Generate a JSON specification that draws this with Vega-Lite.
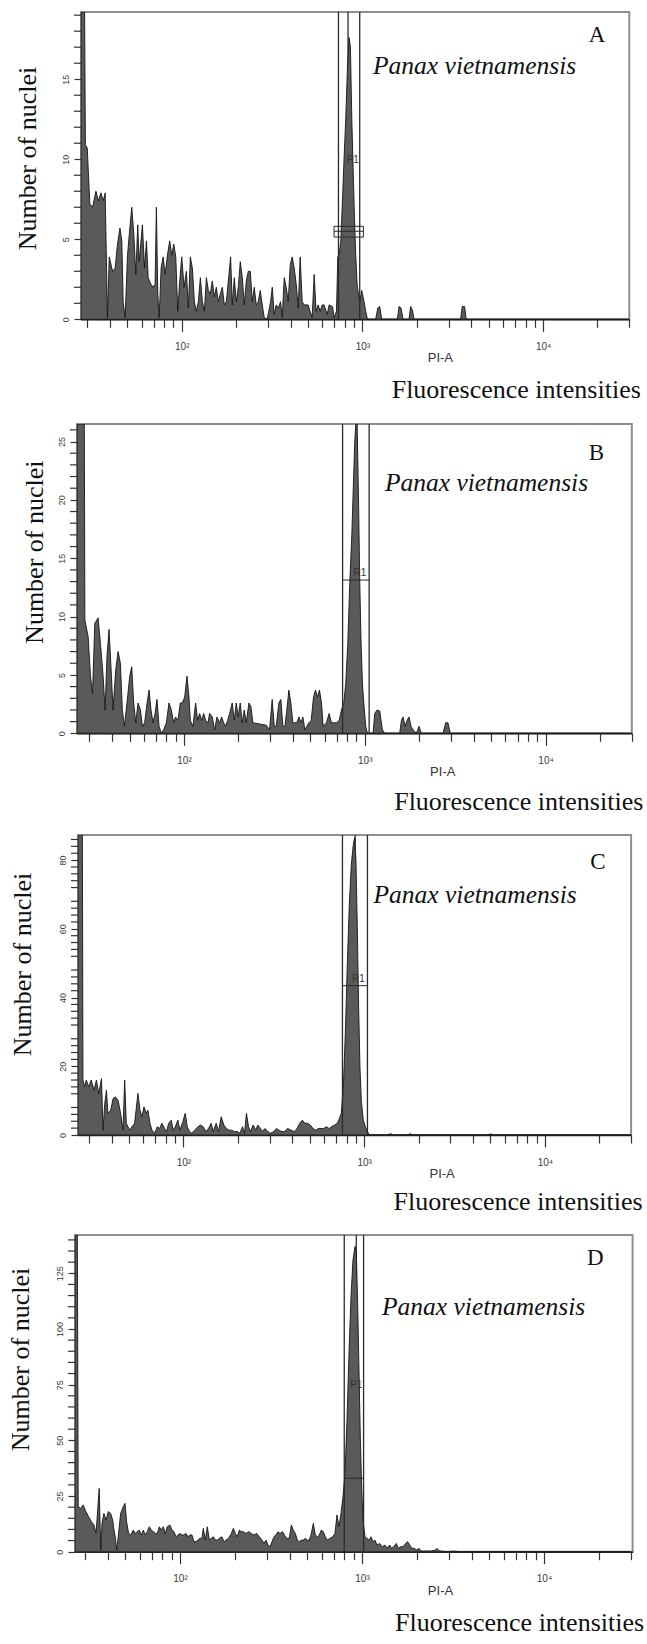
{
  "$schema": "https://vega.github.io/schema/vega-lite/v6.json",
  "padding": {"left": 0, "top": 10, "right": 0, "bottom": 0},
  "spacing": 18,
  "config": {
    "view": {"stroke": "#8f8f8f", "strokeWidth": 2},
    "axis": {"grid": false, "domainColor": "#222", "domainWidth": 1.5, "tickColor": "#333", "tickWidth": 1.2, "labelFont": "Liberation Sans", "labelColor": "#3a3a3a", "titleFont": "Liberation Serif", "titleFontWeight": "normal", "titleColor": "#111", "labelFlush": false, "labelOverlap": false},
    "text": {"font": "Liberation Serif", "color": "#111"}
  },
  "datasets": {
    "A": [
      {"intensity":27.7,"count":19.2},{"intensity":29.0,"count":19.2},{"intensity":29.3,"count":10.9},{"intensity":30.0,"count":10.7},{"intensity":31.0,"count":7.2},{"intensity":32.1,"count":7.0},{"intensity":33.5,"count":8.0},{"intensity":34.6,"count":7.4},{"intensity":35.7,"count":7.9},{"intensity":36.8,"count":7.4},{"intensity":37.7,"count":7.9},{"intensity":38.4,"count":2.9},{"intensity":38.8,"count":0.1},{"intensity":39.7,"count":3.9},{"intensity":41.4,"count":3.0},{"intensity":42.8,"count":3.2},{"intensity":44.1,"count":4.7},{"intensity":45.5,"count":5.7},{"intensity":46.6,"count":4.9},{"intensity":47.4,"count":1.1},{"intensity":48.6,"count":0.1},{"intensity":50.1,"count":4.0},{"intensity":51.6,"count":5.7},{"intensity":52.9,"count":7.0},{"intensity":54.3,"count":5.3},{"intensity":55.7,"count":2.8},{"intensity":57.1,"count":5.9},{"intensity":58.1,"count":3.6},{"intensity":59.3,"count":4.7},{"intensity":60.6,"count":5.9},{"intensity":62.2,"count":3.2},{"intensity":63.8,"count":4.9},{"intensity":65.2,"count":2.6},{"intensity":67.4,"count":2.2},{"intensity":69.4,"count":2.0},{"intensity":71.2,"count":2.2},{"intensity":72.4,"count":7.0},{"intensity":73.7,"count":1.6},{"intensity":75.0,"count":0.1},{"intensity":76.9,"count":3.2},{"intensity":78.9,"count":3.9},{"intensity":80.9,"count":2.8},{"intensity":83.3,"count":4.0},{"intensity":85.8,"count":4.9},{"intensity":88.1,"count":4.0},{"intensity":90.3,"count":4.7},{"intensity":92.7,"count":3.9},{"intensity":95.0,"count":0.5},{"intensity":97.5,"count":2.4},{"intensity":100,"count":3.9},{"intensity":103.0,"count":2.0},{"intensity":106.1,"count":3.0},{"intensity":108.8,"count":0.7},{"intensity":111.6,"count":3.9},{"intensity":114.5,"count":3.2},{"intensity":117.5,"count":1.1},{"intensity":120.5,"count":0.5},{"intensity":123.6,"count":1.1},{"intensity":126.8,"count":2.6},{"intensity":130.1,"count":1.1},{"intensity":133.4,"count":0.5},{"intensity":136.9,"count":2.6},{"intensity":140.4,"count":1.8},{"intensity":144.0,"count":1.6},{"intensity":147.7,"count":2.4},{"intensity":151.5,"count":1.4},{"intensity":155.4,"count":2.0},{"intensity":159.5,"count":1.1},{"intensity":163.6,"count":1.6},{"intensity":167.8,"count":2.0},{"intensity":172.1,"count":0.9},{"intensity":176.5,"count":1.1},{"intensity":182.6,"count":2.8},{"intensity":186.5,"count":3.9},{"intensity":190.5,"count":0.9},{"intensity":195.4,"count":2.6},{"intensity":200.5,"count":1.1},{"intensity":205.6,"count":2.0},{"intensity":210.9,"count":3.6},{"intensity":216.4,"count":2.6},{"intensity":222.0,"count":0.9},{"intensity":227.7,"count":2.4},{"intensity":233.6,"count":3.0},{"intensity":239.6,"count":3.0},{"intensity":245.7,"count":1.1},{"intensity":252.0,"count":2.0},{"intensity":258.5,"count":0.9},{"intensity":265.2,"count":1.1},{"intensity":272.0,"count":1.8},{"intensity":279.1,"count":0.9},{"intensity":286.2,"count":0.1},{"intensity":297.4,"count":0},{"intensity":310.3,"count":1.1},{"intensity":317.0,"count":2.0},{"intensity":325.1,"count":0.3},{"intensity":333.4,"count":0.9},{"intensity":342.0,"count":0.7},{"intensity":352.4,"count":1.1},{"intensity":359.9,"count":0.1},{"intensity":369.2,"count":2.6},{"intensity":378.7,"count":2.0},{"intensity":388.5,"count":1.1},{"intensity":398.5,"count":3.4},{"intensity":408.7,"count":3.9},{"intensity":419.3,"count":3.2},{"intensity":430.1,"count":2.2},{"intensity":441.1,"count":0.7},{"intensity":452.4,"count":3.9},{"intensity":464.2,"count":1.1},{"intensity":476.1,"count":0.9},{"intensity":488.4,"count":0.9},{"intensity":500.9,"count":0.9},{"intensity":513.8,"count":0.5},{"intensity":527.1,"count":0.1},{"intensity":540.7,"count":2.8},{"intensity":554.6,"count":0.5},{"intensity":569.0,"count":0.9},{"intensity":583.6,"count":0.5},{"intensity":598.7,"count":0.9},{"intensity":614.1,"count":0.9},{"intensity":638.0,"count":0.3},{"intensity":654.3,"count":0.9},{"intensity":682.9,"count":0.8},{"intensity":697.5,"count":0.1},{"intensity":718.5,"count":0.5},{"intensity":730.7,"count":3.9},{"intensity":743.2,"count":4.0},{"intensity":759.1,"count":4.9},{"intensity":775.4,"count":7.4},{"intensity":791.9,"count":10.1},{"intensity":809.0,"count":12.6},{"intensity":826.3,"count":15.7},{"intensity":843.9,"count":17.6},{"intensity":858.4,"count":17.0},{"intensity":873.2,"count":12.6},{"intensity":888.1,"count":9.5},{"intensity":903.2,"count":6.4},{"intensity":918.7,"count":4.0},{"intensity":934.4,"count":2.2},{"intensity":950.5,"count":1.6},{"intensity":966.7,"count":1.1},{"intensity":991.6,"count":1.8},{"intensity":1021.4,"count":1.1},{"intensity":1043.3,"count":0.5},{"intensity":1065.8,"count":0},{"intensity":1185.1,"count":0},{"intensity":1215.5,"count":0.7},{"intensity":1246.8,"count":0.8},{"intensity":1279.0,"count":0},{"intensity":1561,"count":0},{"intensity":1594.5,"count":0.8},{"intensity":1635.5,"count":0.7},{"intensity":1677.8,"count":0},{"intensity":1810.4,"count":0},{"intensity":1849.3,"count":0.8},{"intensity":1889,"count":0.6},{"intensity":1929.6,"count":0},{"intensity":3494,"count":0},{"intensity":3569,"count":0.8},{"intensity":3677,"count":0.8},{"intensity":3754,"count":0},{"intensity":30000,"count":0}
    ],
    "B": [
      {"intensity":25.6,"count":26.5},{"intensity":28.1,"count":26.5},{"intensity":28.3,"count":9.7},{"intensity":29.5,"count":8.3},{"intensity":30.4,"count":4.9},{"intensity":31.2,"count":3.4},{"intensity":32.1,"count":9.4},{"intensity":33.5,"count":9.9},{"intensity":34.5,"count":7.7},{"intensity":35.7,"count":4.9},{"intensity":36.6,"count":2.0},{"intensity":37.5,"count":6.6},{"intensity":38.5,"count":8.9},{"intensity":39.7,"count":4.9},{"intensity":40.5,"count":2.0},{"intensity":41.9,"count":5.4},{"intensity":43.2,"count":7.0},{"intensity":44.5,"count":6.0},{"intensity":45.6,"count":2.0},{"intensity":46.8,"count":0.6},{"intensity":48.4,"count":2.6},{"intensity":50.1,"count":4.9},{"intensity":51.4,"count":5.7},{"intensity":52.7,"count":2.6},{"intensity":54.1,"count":0.9},{"intensity":55.7,"count":2.6},{"intensity":57.4,"count":2.0},{"intensity":58.9,"count":0.6},{"intensity":60.6,"count":0.9},{"intensity":62.5,"count":2.6},{"intensity":64.1,"count":3.7},{"intensity":65.7,"count":2.0},{"intensity":67.4,"count":0.9},{"intensity":69.2,"count":1.7},{"intensity":70.9,"count":2.9},{"intensity":72.8,"count":0.6},{"intensity":75.0,"count":0},{"intensity":77.2,"count":0.3},{"intensity":79.9,"count":0.9},{"intensity":82.6,"count":2.6},{"intensity":85.1,"count":2.0},{"intensity":87.7,"count":0.9},{"intensity":89.9,"count":1.4},{"intensity":92.7,"count":1.1},{"intensity":95.4,"count":2.6},{"intensity":97.9,"count":2.6},{"intensity":100.9,"count":3.1},{"intensity":103.9,"count":4.9},{"intensity":106.6,"count":3.1},{"intensity":108.4,"count":1.1},{"intensity":112.1,"count":0.6},{"intensity":116.0,"count":2.6},{"intensity":119.0,"count":1.1},{"intensity":122.1,"count":1.7},{"intensity":125.2,"count":1.1},{"intensity":128.5,"count":1.7},{"intensity":131.8,"count":1.1},{"intensity":135.7,"count":0.9},{"intensity":138.6,"count":1.7},{"intensity":143.4,"count":1.4},{"intensity":147.7,"count":0.3},{"intensity":152.2,"count":1.4},{"intensity":157.4,"count":0.9},{"intensity":161.5,"count":1.4},{"intensity":165.7,"count":0.9},{"intensity":169.9,"count":0.6},{"intensity":174.3,"count":1.1},{"intensity":178.8,"count":1.7},{"intensity":184.9,"count":2.6},{"intensity":189.7,"count":1.1},{"intensity":194.6,"count":2.6},{"intensity":199.6,"count":1.4},{"intensity":204.7,"count":2.6},{"intensity":210.0,"count":0.9},{"intensity":215.4,"count":2.0},{"intensity":221.0,"count":0.9},{"intensity":228.6,"count":2.6},{"intensity":234.5,"count":2.3},{"intensity":240.5,"count":0.9},{"intensity":285.0,"count":0.7},{"intensity":297.4,"count":0.3},{"intensity":307.6,"count":2.9},{"intensity":315.6,"count":0.6},{"intensity":323.7,"count":0.6},{"intensity":334.9,"count":2.6},{"intensity":343.5,"count":2.9},{"intensity":352.4,"count":0.6},{"intensity":361.4,"count":0.6},{"intensity":370.7,"count":2.0},{"intensity":380.3,"count":3.7},{"intensity":390.1,"count":2.6},{"intensity":400.2,"count":0.9},{"intensity":421.1,"count":0.9},{"intensity":432.0,"count":1.4},{"intensity":445.0,"count":0.9},{"intensity":454.6,"count":1.4},{"intensity":466.3,"count":0.3},{"intensity":478.3,"count":0.6},{"intensity":490.6,"count":0.9},{"intensity":505.4,"count":1.1},{"intensity":520.6,"count":3.1},{"intensity":533.9,"count":3.7},{"intensity":547.7,"count":3.1},{"intensity":561.8,"count":3.7},{"intensity":576.3,"count":2.6},{"intensity":588.6,"count":0.6},{"intensity":614.1,"count":0.9},{"intensity":635.2,"count":1.7},{"intensity":654.3,"count":0.9},{"intensity":674.1,"count":0.9},{"intensity":697.5,"count":0.9},{"intensity":721.5,"count":1.1},{"intensity":743.2,"count":2.0},{"intensity":765.6,"count":2.6},{"intensity":785.3,"count":4.3},{"intensity":805.6,"count":7.7},{"intensity":826.3,"count":12.9},{"intensity":847.6,"count":16.9},{"intensity":862.1,"count":20.6},{"intensity":880.7,"count":25.1},{"intensity":892.0,"count":26.5},{"intensity":907.2,"count":26.5},{"intensity":922.6,"count":20.6},{"intensity":938.5,"count":12.9},{"intensity":954.4,"count":7.7},{"intensity":970.7,"count":4.3},{"intensity":987.4,"count":2.6},{"intensity":1012.8,"count":0.6},{"intensity":1034.4,"count":0},{"intensity":1111.8,"count":0},{"intensity":1135.6,"count":1.7},{"intensity":1169.9,"count":2.0},{"intensity":1210.4,"count":1.9},{"intensity":1252.1,"count":0.3},{"intensity":1289.8,"count":0},{"intensity":1561,"count":0},{"intensity":1594.5,"count":1.1},{"intensity":1628.6,"count":1.4},{"intensity":1670.5,"count":0.6},{"intensity":1713.6,"count":1.1},{"intensity":1757.7,"count":1.4},{"intensity":1803.0,"count":0.6},{"intensity":1849.3,"count":0.3},{"intensity":1929.6,"count":0},{"intensity":1996.0,"count":0.6},{"intensity":2056.2,"count":0},{"intensity":2709,"count":0},{"intensity":2802,"count":0.9},{"intensity":2886,"count":0.9},{"intensity":2973,"count":0},{"intensity":30000,"count":0}
    ],
    "C": [
      {"intensity":26.1,"count":87.3},{"intensity":27.6,"count":87.3},{"intensity":27.8,"count":16},{"intensity":28.4,"count":14},{"intensity":29.0,"count":16},{"intensity":29.9,"count":14},{"intensity":30.9,"count":16},{"intensity":32.0,"count":13},{"intensity":33.0,"count":16},{"intensity":34.0,"count":12},{"intensity":35.2,"count":16.4},{"intensity":35.9,"count":1.4},{"intensity":36.7,"count":9.2},{"intensity":37.5,"count":13},{"intensity":38.2,"count":6.3},{"intensity":39.6,"count":7.2},{"intensity":40.8,"count":10.6},{"intensity":42.0,"count":11.1},{"intensity":43.5,"count":10.1},{"intensity":44.9,"count":6.3},{"intensity":46.3,"count":1.4},{"intensity":47.3,"count":16},{"intensity":48.3,"count":3.4},{"intensity":50.4,"count":1.4},{"intensity":51.9,"count":2.4},{"intensity":53.7,"count":3.4},{"intensity":56.0,"count":12.1},{"intensity":57.5,"count":7.2},{"intensity":58.9,"count":5.3},{"intensity":60.5,"count":8.2},{"intensity":62.3,"count":6.3},{"intensity":63.6,"count":7.2},{"intensity":65.3,"count":3.4},{"intensity":67.0,"count":1.4},{"intensity":69.3,"count":0.5},{"intensity":71.7,"count":2.4},{"intensity":73.8,"count":1.9},{"intensity":76.0,"count":3.4},{"intensity":78.7,"count":1.9},{"intensity":80.7,"count":1.0},{"intensity":82.8,"count":3.4},{"intensity":85.6,"count":4.3},{"intensity":87.8,"count":1.4},{"intensity":90.1,"count":2.4},{"intensity":93.2,"count":4.3},{"intensity":95.6,"count":1.4},{"intensity":99.3,"count":3.9},{"intensity":102.3,"count":6.3},{"intensity":105.0,"count":2.4},{"intensity":108.1,"count":1.0},{"intensity":111.4,"count":0.5},{"intensity":115.2,"count":1.4},{"intensity":120.2,"count":2.4},{"intensity":124.4,"count":2.9},{"intensity":128.7,"count":2.4},{"intensity":133.1,"count":1.0},{"intensity":137.7,"count":1.9},{"intensity":142.4,"count":3.4},{"intensity":146.1,"count":1.0},{"intensity":151.8,"count":3.4},{"intensity":156.4,"count":1.0},{"intensity":161.8,"count":5.3},{"intensity":167.3,"count":2.9},{"intensity":173.1,"count":1.9},{"intensity":179.1,"count":1.4},{"intensity":185.3,"count":1.4},{"intensity":191.7,"count":1.0},{"intensity":198.4,"count":1.0},{"intensity":205.1,"count":0.5},{"intensity":212.2,"count":2.4},{"intensity":217.7,"count":0.5},{"intensity":223.3,"count":6.3},{"intensity":229.1,"count":2.4},{"intensity":234.9,"count":1.0},{"intensity":243.0,"count":2.9},{"intensity":251.4,"count":1.4},{"intensity":257.9,"count":2.9},{"intensity":266.8,"count":1.9},{"intensity":273.6,"count":1.0},{"intensity":283.1,"count":1.9},{"intensity":292.9,"count":1.0},{"intensity":303.0,"count":0.5},{"intensity":316.1,"count":1.0},{"intensity":327.0,"count":1.9},{"intensity":338.3,"count":1.4},{"intensity":349.9,"count":1.0},{"intensity":362.0,"count":1.0},{"intensity":377.7,"count":1.9},{"intensity":394.1,"count":1.4},{"intensity":411.1,"count":1.0},{"intensity":425.3,"count":1.9},{"intensity":440.0,"count":3.4},{"intensity":455.1,"count":4.3},{"intensity":470.8,"count":3.4},{"intensity":487.1,"count":3.4},{"intensity":504.0,"count":2.9},{"intensity":521.3,"count":1.9},{"intensity":539.3,"count":1.4},{"intensity":557.9,"count":1.9},{"intensity":577.1,"count":1.9},{"intensity":597.1,"count":1.9},{"intensity":617.7,"count":2.4},{"intensity":641.7,"count":1.9},{"intensity":658.1,"count":2.4},{"intensity":686.6,"count":2.9},{"intensity":710.3,"count":3.4},{"intensity":728.9,"count":4.8},{"intensity":747.7,"count":6.3},{"intensity":766.9,"count":14},{"intensity":786.7,"count":29.5},{"intensity":806.9,"count":49.8},{"intensity":827.7,"count":67.1},{"intensity":849.0,"count":78.7},{"intensity":871.0,"count":84.5},{"intensity":885.9,"count":86.5},{"intensity":901.1,"count":79.7},{"intensity":916.5,"count":60.4},{"intensity":932.2,"count":37.2},{"intensity":948.1,"count":19.8},{"intensity":964.3,"count":10.1},{"intensity":989.0,"count":4.3},{"intensity":1014.6,"count":2.4},{"intensity":1040.6,"count":1.0},{"intensity":1072.0,"count":0},{"intensity":1350,"count":0},{"intensity":1400,"count":0.4},{"intensity":1450,"count":0},{"intensity":1750,"count":0},{"intensity":1800,"count":0.4},{"intensity":1850,"count":0},{"intensity":4800,"count":0},{"intensity":5000,"count":0.3},{"intensity":5200,"count":0},{"intensity":30000,"count":0}
    ],
    "D": [
      {"intensity":26.5,"count":142.2},{"intensity":27.3,"count":142.2},{"intensity":27.6,"count":20.2},{"intensity":28.5,"count":19.5},{"intensity":29.4,"count":21},{"intensity":30.4,"count":18},{"intensity":31.5,"count":15.7},{"intensity":32.6,"count":13.5},{"intensity":33.7,"count":12},{"intensity":34.6,"count":8.2},{"intensity":35.3,"count":18.7},{"intensity":36.0,"count":28.4},{"intensity":36.7,"count":0.7},{"intensity":37.3,"count":12.7},{"intensity":38.2,"count":17.2},{"intensity":39.2,"count":14.2},{"intensity":40.4,"count":18},{"intensity":41.6,"count":17.2},{"intensity":42.7,"count":14.2},{"intensity":43.4,"count":9.7},{"intensity":44.1,"count":6.7},{"intensity":44.9,"count":0.7},{"intensity":46.0,"count":8.2},{"intensity":47.2,"count":17.2},{"intensity":48.8,"count":20.2},{"intensity":49.9,"count":21.7},{"intensity":50.9,"count":13.5},{"intensity":52.2,"count":8.2},{"intensity":53.6,"count":7.5},{"intensity":55.4,"count":9.7},{"intensity":56.8,"count":8.2},{"intensity":58.3,"count":9.0},{"intensity":59.8,"count":9.7},{"intensity":61.3,"count":7.5},{"intensity":62.9,"count":9.7},{"intensity":64.5,"count":7.5},{"intensity":66.1,"count":9.0},{"intensity":67.8,"count":11.2},{"intensity":69.6,"count":9.7},{"intensity":71.4,"count":9.0},{"intensity":73.2,"count":8.2},{"intensity":75.1,"count":8.2},{"intensity":77.0,"count":11.2},{"intensity":78.9,"count":9.7},{"intensity":81.0,"count":11.2},{"intensity":83.1,"count":8.2},{"intensity":85.2,"count":11.2},{"intensity":88.1,"count":12.0},{"intensity":90.4,"count":9.7},{"intensity":92.7,"count":9.0},{"intensity":95.1,"count":6.7},{"intensity":97.5,"count":7.5},{"intensity":100,"count":8.2},{"intensity":102.6,"count":7.5},{"intensity":105.2,"count":7.5},{"intensity":107.9,"count":8.2},{"intensity":110.7,"count":6.7},{"intensity":113.5,"count":7.5},{"intensity":116.4,"count":7.5},{"intensity":119.4,"count":4.5},{"intensity":122.4,"count":4.5},{"intensity":125.6,"count":5.2},{"intensity":128.8,"count":6.0},{"intensity":132.1,"count":6.0},{"intensity":134.3,"count":10.5},{"intensity":137.8,"count":5.2},{"intensity":141.3,"count":11.2},{"intensity":145.0,"count":5.2},{"intensity":148.7,"count":6.0},{"intensity":152.5,"count":6.7},{"intensity":156.4,"count":5.2},{"intensity":160.4,"count":5.2},{"intensity":164.5,"count":6.0},{"intensity":170.1,"count":6.7},{"intensity":174.5,"count":4.5},{"intensity":178.9,"count":5.2},{"intensity":185.1,"count":6.0},{"intensity":191.5,"count":8.2},{"intensity":196.4,"count":10.5},{"intensity":201.4,"count":8.2},{"intensity":206.5,"count":6.7},{"intensity":211.8,"count":9.7},{"intensity":217.3,"count":9.0},{"intensity":222.8,"count":9.0},{"intensity":230.5,"count":8.2},{"intensity":238.4,"count":9.0},{"intensity":246.6,"count":8.2},{"intensity":255.0,"count":7.5},{"intensity":263.8,"count":8.2},{"intensity":272.9,"count":6.7},{"intensity":282.2,"count":5.2},{"intensity":289.4,"count":3.7},{"intensity":296.9,"count":5.2},{"intensity":304.5,"count":3.0},{"intensity":312.3,"count":2.2},{"intensity":320.3,"count":4.5},{"intensity":328.5,"count":6.7},{"intensity":336.9,"count":7.5},{"intensity":345.5,"count":9.0},{"intensity":354.3,"count":8.2},{"intensity":366.5,"count":9.0},{"intensity":379.1,"count":6.7},{"intensity":388.8,"count":6.0},{"intensity":398.8,"count":6.0},{"intensity":409.0,"count":12.0},{"intensity":419.5,"count":9.7},{"intensity":430.3,"count":8.2},{"intensity":441.3,"count":5.2},{"intensity":452.6,"count":4.5},{"intensity":464.2,"count":5.2},{"intensity":476.1,"count":5.2},{"intensity":488.3,"count":6.0},{"intensity":500.8,"count":5.2},{"intensity":513.6,"count":5.2},{"intensity":526.8,"count":8.2},{"intensity":540.3,"count":12.7},{"intensity":554.1,"count":7.5},{"intensity":568.3,"count":6.7},{"intensity":582.9,"count":7.5},{"intensity":597.8,"count":9.7},{"intensity":613.1,"count":9.0},{"intensity":628.8,"count":6.7},{"intensity":644.9,"count":5.2},{"intensity":667.1,"count":6.0},{"intensity":690.0,"count":6.7},{"intensity":710.6,"count":8.2},{"intensity":728.9,"count":16.5},{"intensity":747.6,"count":11.2},{"intensity":766.7,"count":17.2},{"intensity":786.4,"count":24.7},{"intensity":806.6,"count":35.2},{"intensity":827.3,"count":59},{"intensity":848.5,"count":89},{"intensity":870.2,"count":114.5},{"intensity":892.4,"count":131},{"intensity":915.3,"count":137},{"intensity":930.9,"count":134.7},{"intensity":946.8,"count":111.5},{"intensity":962.8,"count":81.6},{"intensity":979.1,"count":51.6},{"intensity":995.8,"count":29.2},{"intensity":1012.7,"count":14.2},{"intensity":1038.7,"count":6.7},{"intensity":1065.3,"count":6.0},{"intensity":1092.6,"count":5.2},{"intensity":1120.6,"count":6.7},{"intensity":1149.2,"count":4.5},{"intensity":1178.6,"count":5.2},{"intensity":1208.8,"count":3.0},{"intensity":1250.4,"count":3.7},{"intensity":1293.3,"count":2.2},{"intensity":1337.7,"count":3.0},{"intensity":1372.0,"count":1.5},{"intensity":1419.1,"count":3.0},{"intensity":1455.5,"count":1.5},{"intensity":1492.8,"count":2.2},{"intensity":1544.0,"count":3.7},{"intensity":1583.6,"count":1.5},{"intensity":1624.2,"count":2.2},{"intensity":1680.0,"count":2.2},{"intensity":1737.6,"count":3.7},{"intensity":1782.2,"count":4.5},{"intensity":1827.9,"count":3.0},{"intensity":1882.5,"count":1.5},{"intensity":1939.0,"count":1.5},{"intensity":2005.6,"count":0.7},{"intensity":2057.0,"count":1.5},{"intensity":2110.0,"count":0.3},{"intensity":2374,"count":0.3},{"intensity":2529,"count":0.7},{"intensity":2583,"count":1.5},{"intensity":2649,"count":0.4},{"intensity":2931,"count":0},{"intensity":3189,"count":0.3},{"intensity":3470,"count":0},{"intensity":30000,"count":0}
    ]
  },
  "vconcat": [
    {
      "spacing": 0,
      "hconcat": [
        {"width": 12.7, "height": 2, "view": {"stroke": null, "fill": "#ffffff"}, "data": {"values": []}, "mark": "rule", "encoding": {}},
        {
          "width": 548.3, "height": 307.3,
          "layer": [
            {"data": {"values": [{}]}, "mark": {"type": "rule", "color": "#2a2a2a", "strokeWidth": 1.3}, "encoding": {"x": {"datum": 832.5}, "y": {"datum": 0}, "y2": {"datum": 19.2}}},
            {"data": {"name": "A"}, "mark": {"type": "area", "interpolate": "linear", "color": "#5a5a5a", "stroke": "#141414", "strokeWidth": 0.9, "clip": true},
             "encoding": {
              "x": {"field": "intensity", "type": "quantitative", "scale": {"type": "log", "domain": [27.7, 30000], "nice": false},
                    "axis": {"title": "Fluorescence intensities", "titleFontSize": 26, "titleAnchor": "end", "titleAlign": "right", "titleBaseline": "middle", "titleX": 559.3, "titleY": 70,
                             "values": [30,40,50,60,70,80,90,100,200,300,400,500,600,700,800,900,1000,2000,3000,4000,5000,6000,7000,8000,9000,10000,20000,30000],
                             "labelExpr": "datum.value == 100 ? '10²' : datum.value == 1000 ? '10³' : datum.value == 10000 ? '10⁴' : ''",
                             "labelFontSize": 10, "labelPadding": 10, "labelOverlap": false,
                             "tickSize": {"condition": {"test": "datum.value == 100 || datum.value == 1000 || datum.value == 10000", "value": 12}, "value": 8}}},
              "y": {"field": "count", "type": "quantitative", "scale": {"domain": [0, 19.2], "nice": false},
                    "axis": {"title": "Number of nuclei", "titleFontSize": 26, "titleAngle": 270, "titleX": -54, "titleY": 146, "titleBaseline": "middle", "titleAlign": "center",
                             "values": [0,5,10,15], "labelOverlap": false,
                             "labelAngle": 270, "labelAlign": "center", "labelBaseline": "bottom", "labelFontSize": 9, "labelPadding": 4, "tickSize": 7}}
             }},
            {"data": {"values": [{"tick":1},{"tick":2},{"tick":3},{"tick":4},{"tick":6},{"tick":7},{"tick":8},{"tick":9},{"tick":11},{"tick":12},{"tick":13},{"tick":14},{"tick":16},{"tick":17},{"tick":18},{"tick":19}]},
             "mark": {"type": "rule", "color": "#333", "strokeWidth": 1.2, "xOffset": -7},
             "encoding": {"x": {"datum": 27.7}, "x2": {"datum": 27.7}, "y": {"field": "tick", "type": "quantitative", "title": "Number of nuclei"}}},
            {"data": {"values": [{}]}, "mark": {"type": "rule", "color": "#2a2a2a", "strokeWidth": 1.3}, "encoding": {"x": {"datum": 737}, "y": {"datum": 0}, "y2": {"datum": 19.2}}},
            {"data": {"values": [{}]}, "mark": {"type": "rule", "color": "#2a2a2a", "strokeWidth": 1.3}, "encoding": {"x": {"datum": 966.3}, "y": {"datum": 0}, "y2": {"datum": 19.2}}},
            {"data": {"values": [{}]}, "mark": {"type": "rect", "fill": null, "fillOpacity": 0, "stroke": "#2a2a2a", "strokeWidth": 1}, "encoding": {"x": {"datum": 696.8}, "x2": {"datum": 1012.7}, "y": {"datum": 5.14}, "y2": {"datum": 5.81}}},
            {"data": {"values": [{}]}, "mark": {"type": "rule", "color": "#2a2a2a", "strokeWidth": 1}, "encoding": {"x": {"datum": 696.8}, "x2": {"datum": 1012.7}, "y": {"datum": 5.5}}},
            {"data": {"values": [{}]}, "mark": {"type": "text", "text": "P1", "font": "Liberation Sans", "fontSize": 10, "color": "#333", "baseline": "middle"}, "encoding": {"x": {"datum": 884}, "y": {"datum": 9.94}}},
            {"data": {"values": [{}]}, "mark": {"type": "text", "text": "A", "fontSize": 23, "baseline": "middle", "align": "center"}, "encoding": {"x": {"datum": 19880}, "y": {"datum": 17.79}}},
            {"data": {"values": [{}]}, "mark": {"type": "text", "text": "Panax vietnamensis", "fontSize": 25.5, "fontStyle": "italic", "baseline": "middle", "align": "left"}, "encoding": {"x": {"datum": 1145}, "y": {"datum": 15.81}}},
            {"data": {"values": [{}]}, "mark": {"type": "text", "text": "PI-A", "font": "Liberation Sans", "fontSize": 13, "color": "#333", "baseline": "middle", "align": "center", "dy": 39}, "encoding": {"x": {"datum": 2700}, "y": {"datum": 0}}}
          ]
        }
      ]
    },
    {
      "spacing": 0,
      "hconcat": [
        {"width": 19.3, "height": 2, "view": {"stroke": null, "fill": "#ffffff"}, "data": {"values": []}, "mark": "rule", "encoding": {}},
        {
          "width": 554.8, "height": 309.3,
          "layer": [
            {"data": {"values": [{}]}, "mark": {"type": "rule", "color": "#2a2a2a", "strokeWidth": 1.3}, "encoding": {"x": {"datum": 901}, "y": {"datum": 0}, "y2": {"datum": 26.5}}},
            {"data": {"name": "B"}, "mark": {"type": "area", "interpolate": "linear", "color": "#5a5a5a", "stroke": "#141414", "strokeWidth": 0.9, "clip": true},
             "encoding": {
              "x": {"field": "intensity", "type": "quantitative", "scale": {"type": "log", "domain": [25.6, 30000], "nice": false},
                    "axis": {"title": "Fluorescence intensities", "titleFontSize": 26, "titleAnchor": "end", "titleAlign": "right", "titleBaseline": "middle", "titleX": 565.8, "titleY": 67.7,
                             "values": [30,40,50,60,70,80,90,100,200,300,400,500,600,700,800,900,1000,2000,3000,4000,5000,6000,7000,8000,9000,10000,20000,30000],
                             "labelExpr": "datum.value == 100 ? '10²' : datum.value == 1000 ? '10³' : datum.value == 10000 ? '10⁴' : ''",
                             "labelFontSize": 10, "labelPadding": 10, "labelOverlap": false,
                             "tickSize": {"condition": {"test": "datum.value == 100 || datum.value == 1000 || datum.value == 10000", "value": 12}, "value": 8}}},
              "y": {"field": "count", "type": "quantitative", "scale": {"domain": [0, 26.5], "nice": false},
                    "axis": {"title": "Number of nuclei", "titleFontSize": 26, "titleAngle": 270, "titleX": -42.1, "titleY": 127.7, "titleBaseline": "middle", "titleAlign": "center",
                             "values": [0,5,10,15,20,25], "labelOverlap": false,
                             "labelAngle": 270, "labelAlign": "center", "labelBaseline": "bottom", "labelFontSize": 9, "labelPadding": 4, "tickSize": 7}}
             }},
            {"data": {"values": [{"tick":1},{"tick":2},{"tick":3},{"tick":4},{"tick":6},{"tick":7},{"tick":8},{"tick":9},{"tick":11},{"tick":12},{"tick":13},{"tick":14},{"tick":16},{"tick":17},{"tick":18},{"tick":19},{"tick":21},{"tick":22},{"tick":23},{"tick":24},{"tick":26}]},
             "mark": {"type": "rule", "color": "#333", "strokeWidth": 1.2, "xOffset": -7},
             "encoding": {"x": {"datum": 25.6}, "x2": {"datum": 25.6}, "y": {"field": "tick", "type": "quantitative", "title": "Number of nuclei"}}},
            {"data": {"values": [{}]}, "mark": {"type": "rule", "color": "#2a2a2a", "strokeWidth": 1.3}, "encoding": {"x": {"datum": 754}, "y": {"datum": 0}, "y2": {"datum": 26.5}}},
            {"data": {"values": [{}]}, "mark": {"type": "rule", "color": "#2a2a2a", "strokeWidth": 1.3}, "encoding": {"x": {"datum": 1057.5}, "y": {"datum": 0}, "y2": {"datum": 26.5}}},
            {"data": {"values": [{}]}, "mark": {"type": "rule", "color": "#2a2a2a", "strokeWidth": 1}, "encoding": {"x": {"datum": 754}, "x2": {"datum": 1057.5}, "y": {"datum": 13.13}}},
            {"data": {"values": [{}]}, "mark": {"type": "text", "text": "R1", "font": "Liberation Sans", "fontSize": 10, "color": "#333", "baseline": "bottom"}, "encoding": {"x": {"datum": 939.5}, "y": {"datum": 13.3}}},
            {"data": {"values": [{}]}, "mark": {"type": "text", "text": "B", "fontSize": 23, "baseline": "middle", "align": "center"}, "encoding": {"x": {"datum": 19120}, "y": {"datum": 23.99}}},
            {"data": {"values": [{}]}, "mark": {"type": "text", "text": "Panax vietnamensis", "fontSize": 25.5, "fontStyle": "italic", "baseline": "middle", "align": "left"}, "encoding": {"x": {"datum": 1292}, "y": {"datum": 21.42}}},
            {"data": {"values": [{}]}, "mark": {"type": "text", "text": "PI-A", "font": "Liberation Sans", "fontSize": 13, "color": "#333", "baseline": "middle", "align": "center", "dy": 39}, "encoding": {"x": {"datum": 2700}, "y": {"datum": 0}}}
          ]
        }
      ]
    },
    {
      "spacing": 0,
      "hconcat": [
        {"width": 7.7, "height": 2, "view": {"stroke": null, "fill": "#ffffff"}, "data": {"values": []}, "mark": "rule", "encoding": {}},
        {
          "width": 553.1, "height": 300,
          "layer": [
            {"data": {"values": [{}]}, "mark": {"type": "rule", "color": "#2a2a2a", "strokeWidth": 1.3}, "encoding": {"x": {"datum": 891.7}, "y": {"datum": 0}, "y2": {"datum": 87.3}}},
            {"data": {"name": "C"}, "mark": {"type": "area", "interpolate": "linear", "color": "#5a5a5a", "stroke": "#141414", "strokeWidth": 0.9, "clip": true},
             "encoding": {
              "x": {"field": "intensity", "type": "quantitative", "scale": {"type": "log", "domain": [26.1, 30000], "nice": false},
                    "axis": {"title": "Fluorescence intensities", "titleFontSize": 26, "titleAnchor": "end", "titleAlign": "right", "titleBaseline": "middle", "titleX": 564.1, "titleY": 66,
                             "values": [30,40,50,60,70,80,90,100,200,300,400,500,600,700,800,900,1000,2000,3000,4000,5000,6000,7000,8000,9000,10000,20000,30000],
                             "labelExpr": "datum.value == 100 ? '10²' : datum.value == 1000 ? '10³' : datum.value == 10000 ? '10⁴' : ''",
                             "labelFontSize": 10, "labelPadding": 10, "labelOverlap": false,
                             "tickSize": {"condition": {"test": "datum.value == 100 || datum.value == 1000 || datum.value == 10000", "value": 12}, "value": 8}}},
              "y": {"field": "count", "type": "quantitative", "scale": {"domain": [0, 87.3], "nice": false},
                    "axis": {"title": "Number of nuclei", "titleFontSize": 26, "titleAngle": 270, "titleX": -56, "titleY": 129, "titleBaseline": "middle", "titleAlign": "center",
                             "values": [0,10,20,30,40,50,60,70,80], "labelOverlap": false,
                             "labelAngle": 270, "labelAlign": "center", "labelBaseline": "bottom", "labelFontSize": 9, "labelPadding": 4, "tickSize": 7}}
             }},
            {"data": {"values": [{"tick":2},{"tick":4},{"tick":6},{"tick":8},{"tick":12},{"tick":14},{"tick":16},{"tick":18},{"tick":22},{"tick":24},{"tick":26},{"tick":28},{"tick":32},{"tick":34},{"tick":36},{"tick":38},{"tick":42},{"tick":44},{"tick":46},{"tick":48},{"tick":52},{"tick":54},{"tick":56},{"tick":58},{"tick":62},{"tick":64},{"tick":66},{"tick":68},{"tick":72},{"tick":74},{"tick":76},{"tick":78},{"tick":82},{"tick":84},{"tick":86}]},
             "mark": {"type": "rule", "color": "#333", "strokeWidth": 1.2, "xOffset": -7},
             "encoding": {"x": {"datum": 26.1}, "x2": {"datum": 26.1}, "y": {"field": "tick", "type": "quantitative", "title": "Number of nuclei"}}},
            {"data": {"values": [{}]}, "mark": {"type": "rule", "color": "#2a2a2a", "strokeWidth": 1.3}, "encoding": {"x": {"datum": 758.5}, "y": {"datum": 0}, "y2": {"datum": 87.3}}},
            {"data": {"values": [{}]}, "mark": {"type": "rule", "color": "#2a2a2a", "strokeWidth": 1.3}, "encoding": {"x": {"datum": 1043}, "y": {"datum": 0}, "y2": {"datum": 87.3}}},
            {"data": {"values": [{}]}, "mark": {"type": "rule", "color": "#2a2a2a", "strokeWidth": 1}, "encoding": {"x": {"datum": 758.5}, "x2": {"datum": 1043}, "y": {"datum": 43.45}}},
            {"data": {"values": [{}]}, "mark": {"type": "text", "text": "R1", "font": "Liberation Sans", "fontSize": 10, "color": "#333", "baseline": "bottom"}, "encoding": {"x": {"datum": 930}, "y": {"datum": 44}}},
            {"data": {"values": [{}]}, "mark": {"type": "text", "text": "C", "fontSize": 23, "baseline": "middle", "align": "center"}, "encoding": {"x": {"datum": 19630}, "y": {"datum": 79.53}}},
            {"data": {"values": [{}]}, "mark": {"type": "text", "text": "Panax vietnamensis", "fontSize": 25.5, "fontStyle": "italic", "baseline": "middle", "align": "left"}, "encoding": {"x": {"datum": 1126}, "y": {"datum": 69.84}}},
            {"data": {"values": [{}]}, "mark": {"type": "text", "text": "PI-A", "font": "Liberation Sans", "fontSize": 13, "color": "#333", "baseline": "middle", "align": "center", "dy": 39}, "encoding": {"x": {"datum": 2700}, "y": {"datum": 0}}}
          ]
        }
      ]
    },
    {
      "spacing": 0,
      "hconcat": [
        {"width": 6, "height": 2, "view": {"stroke": null, "fill": "#ffffff"}, "data": {"values": []}, "mark": "rule", "encoding": {}},
        {
          "width": 557.6, "height": 316.7,
          "layer": [
            {"data": {"values": [{}]}, "mark": {"type": "rule", "color": "#2a2a2a", "strokeWidth": 1.3}, "encoding": {"x": {"datum": 930}, "y": {"datum": 0}, "y2": {"datum": 142.2}}},
            {"data": {"name": "D"}, "mark": {"type": "area", "interpolate": "linear", "color": "#5a5a5a", "stroke": "#141414", "strokeWidth": 0.9, "clip": true},
             "encoding": {
              "x": {"field": "intensity", "type": "quantitative", "scale": {"type": "log", "domain": [26.5, 30680], "nice": false},
                    "axis": {"title": "Fluorescence intensities", "titleFontSize": 26, "titleAnchor": "end", "titleAlign": "right", "titleBaseline": "middle", "titleX": 568.6, "titleY": 71,
                             "values": [30,40,50,60,70,80,90,100,200,300,400,500,600,700,800,900,1000,2000,3000,4000,5000,6000,7000,8000,9000,10000,20000,30000],
                             "labelExpr": "datum.value == 100 ? '10²' : datum.value == 1000 ? '10³' : datum.value == 10000 ? '10⁴' : ''",
                             "labelFontSize": 10, "labelPadding": 10, "labelOverlap": false,
                             "tickSize": {"condition": {"test": "datum.value == 100 || datum.value == 1000 || datum.value == 10000", "value": 12}, "value": 8}}},
              "y": {"field": "count", "type": "quantitative", "scale": {"domain": [0, 142.2], "nice": false},
                    "axis": {"title": "Number of nuclei", "titleFontSize": 26, "titleAngle": 270, "titleX": -54.2, "titleY": 124, "titleBaseline": "middle", "titleAlign": "center",
                             "values": [0,25,50,75,100,125], "labelOverlap": false,
                             "labelAngle": 270, "labelAlign": "center", "labelBaseline": "bottom", "labelFontSize": 9, "labelPadding": 4, "tickSize": 7}}
             }},
            {"data": {"values": [{"tick":5},{"tick":10},{"tick":15},{"tick":20},{"tick":30},{"tick":35},{"tick":40},{"tick":45},{"tick":55},{"tick":60},{"tick":65},{"tick":70},{"tick":80},{"tick":85},{"tick":90},{"tick":95},{"tick":105},{"tick":110},{"tick":115},{"tick":120},{"tick":130},{"tick":135},{"tick":140}]},
             "mark": {"type": "rule", "color": "#333", "strokeWidth": 1.2, "xOffset": -7},
             "encoding": {"x": {"datum": 26.5}, "x2": {"datum": 26.5}, "y": {"field": "tick", "type": "quantitative", "title": "Number of nuclei"}}},
            {"data": {"values": [{}]}, "mark": {"type": "rule", "color": "#2a2a2a", "strokeWidth": 1.3}, "encoding": {"x": {"datum": 799}, "y": {"datum": 0}, "y2": {"datum": 142.2}}},
            {"data": {"values": [{}]}, "mark": {"type": "rule", "color": "#2a2a2a", "strokeWidth": 1.3}, "encoding": {"x": {"datum": 1020.5}, "y": {"datum": 0}, "y2": {"datum": 142.2}}},
            {"data": {"values": [{}]}, "mark": {"type": "rule", "color": "#2a2a2a", "strokeWidth": 1}, "encoding": {"x": {"datum": 799}, "x2": {"datum": 1020.5}, "y": {"datum": 33}}},
            {"data": {"values": [{}]}, "mark": {"type": "text", "text": "P1", "font": "Liberation Sans", "fontSize": 10, "color": "#333", "baseline": "middle"}, "encoding": {"x": {"datum": 930}, "y": {"datum": 74.85}}},
            {"data": {"values": [{}]}, "mark": {"type": "text", "text": "D", "fontSize": 23, "baseline": "middle", "align": "center"}, "encoding": {"x": {"datum": 19140}, "y": {"datum": 131.74}}},
            {"data": {"values": [{}]}, "mark": {"type": "text", "text": "Panax vietnamensis", "fontSize": 25.5, "fontStyle": "italic", "baseline": "middle", "align": "left"}, "encoding": {"x": {"datum": 1288}, "y": {"datum": 110}}},
            {"data": {"values": [{}]}, "mark": {"type": "text", "text": "PI-A", "font": "Liberation Sans", "fontSize": 13, "color": "#333", "baseline": "middle", "align": "center", "dy": 39}, "encoding": {"x": {"datum": 2700}, "y": {"datum": 0}}}
          ]
        }
      ]
    }
  ]
}
